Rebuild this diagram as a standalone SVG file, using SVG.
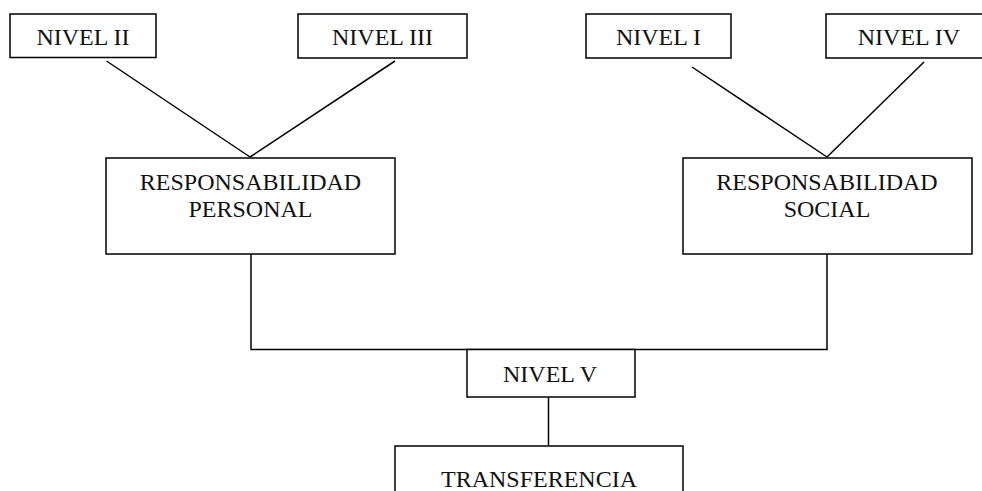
<svg xmlns="http://www.w3.org/2000/svg" width="982" height="491" viewBox="0 0 982 491">
<style>
.box{fill:#fff;stroke:#000;stroke-width:1.5}
.ln{fill:none;stroke:#000;stroke-width:1.5}
text{font-family:"Liberation Serif","Times New Roman",serif;font-size:24px;fill:#111;text-anchor:middle}
</style>
<rect width="982" height="491" fill="#fff"/>
<g id="connectors">
<line class="ln" x1="106.5" y1="61" x2="250" y2="157"/>
<line class="ln" x1="395" y1="61" x2="250" y2="157"/>
<line class="ln" x1="692" y1="67" x2="827" y2="157"/>
<line class="ln" x1="924" y1="62" x2="827" y2="157"/>
<polyline class="ln" points="251,254 251,349.5 827,349.5 827,254"/>
<line class="ln" x1="548.5" y1="397" x2="548.5" y2="446"/>
</g>
<g id="nivel2"><rect class="box" x="10" y="14" width="146" height="43.5"/><text x="83" y="45">NIVEL II</text></g>
<g id="nivel3"><rect class="box" x="298" y="14" width="169" height="44"/><text x="382.5" y="45">NIVEL III</text></g>
<g id="nivel1"><rect class="box" x="586" y="14" width="145" height="44"/><text x="658.5" y="45">NIVEL I</text></g>
<g id="nivel4"><rect class="box" x="826" y="14" width="170" height="44"/><text x="909" y="45">NIVEL IV</text></g>
<g id="personal"><rect class="box" x="106" y="158" width="289" height="96"/><text x="250.5" y="190">RESPONSABILIDAD</text><text x="250.5" y="217">PERSONAL</text></g>
<g id="social"><rect class="box" x="683" y="158" width="289" height="96"/><text x="827" y="190">RESPONSABILIDAD</text><text x="827" y="217">SOCIAL</text></g>
<g id="nivel5"><rect class="box" x="467" y="349.5" width="168" height="47.5"/><text x="550" y="382">NIVEL V</text></g>
<g id="transferencia"><rect class="box" x="395" y="446" width="288" height="60"/><text x="539" y="487">TRANSFERENCIA</text></g>
</svg>
